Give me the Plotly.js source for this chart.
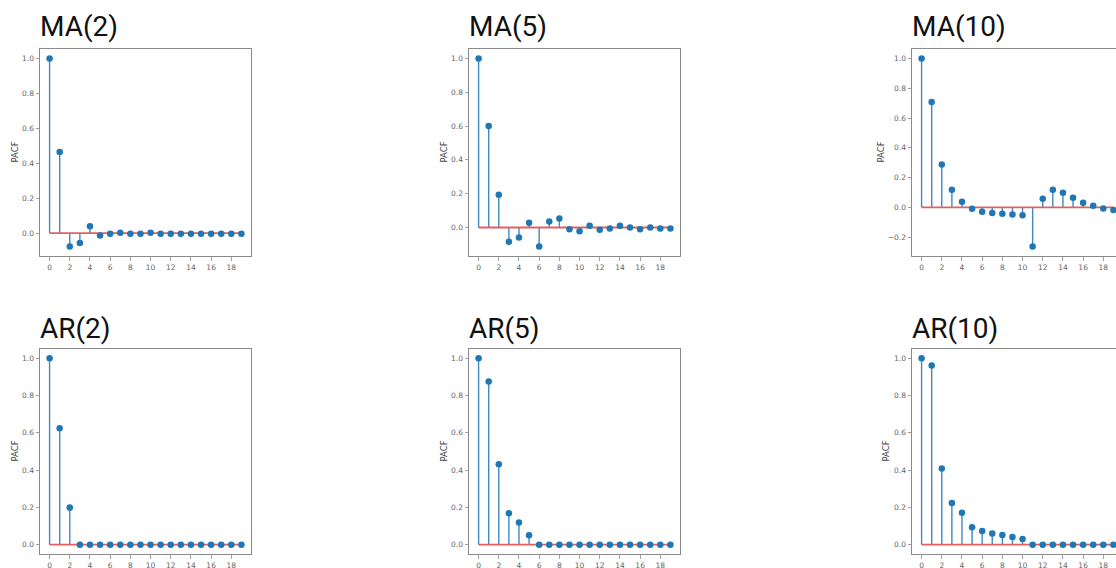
<!DOCTYPE html>
<html>
<head>
<meta charset="utf-8">
<script src="https://cdn.plot.ly/plotly-3.0.1.min.js"></script>
<style>
html, body { margin: 0; padding: 0; overflow: hidden; background: #fff; width: 1116px; height: 568px; }
#chart { width: 1130px; height: 568px; }
</style>
</head>
<body>
<div id="chart"></div>
<script>
// ---- data ----
const lags = [0,1,2,3,4,5,6,7,8,9,10,11,12,13,14,15,16,17,18,19];
const xTickVals = [0,2,4,6,8,10,12,14,16,18];
const yAxisLabel = "PACF";

const titles = ["MA(2)", "MA(5)", "MA(10)", "AR(2)", "AR(5)", "AR(10)"];

const ma2  = [1.0, 0.464, -0.077, -0.056, 0.040, -0.013, -0.004, 0.002, -0.004, -0.004, 0.002, -0.003, -0.003, -0.003, -0.003, -0.003, -0.003, -0.003, -0.003, -0.003];
const ma5  = [1.0, 0.600, 0.194, -0.085, -0.059, 0.028, -0.113, 0.036, 0.053, -0.010, -0.022, 0.010, -0.014, -0.006, 0.010, 0.000, -0.010, 0.000, -0.006, -0.006];
const ma10 = [1.0, 0.708, 0.288, 0.119, 0.038, -0.009, -0.029, -0.038, -0.043, -0.047, -0.052, -0.263, 0.058, 0.119, 0.099, 0.065, 0.031, 0.011, -0.007, -0.018];
const ar2  = [1.0, 0.625, 0.199, 0, 0, 0, 0, 0, 0, 0, 0, 0, 0, 0, 0, 0, 0, 0, 0, 0];
const ar5  = [1.0, 0.876, 0.432, 0.169, 0.119, 0.050, 0, 0, 0, 0, 0, 0, 0, 0, 0, 0, 0, 0, 0, 0];
const ar10 = [1.0, 0.961, 0.409, 0.224, 0.171, 0.094, 0.073, 0.060, 0.052, 0.041, 0.030, 0, 0, 0, 0, 0, 0, 0, 0, 0];

const series = [ma2, ma5, ma10, ar2, ar5, ar10];

// ---- layout geometry (pixels) ----
const W = 1130, H = 568;
const colLeft = [40, 469, 912];
const plotW = 211;
const rowTop = [49, 349];
const rowBot = [256, 554];
const ylabelOffset = [26, 26, 32, 26, 26, 27];
const titleY = [27, 328];

const stemColor = '#4089c2';
const markerColor = '#1f77b4';
const baseColor = '#e0615f';

const data = [];
const layout = {
  width: W, height: H,
  margin: {l: 0, r: 0, t: 0, b: 0, pad: 0},
  paper_bgcolor: '#ffffff',
  plot_bgcolor: '#ffffff',
  showlegend: false,
  font: {family: 'DejaVu Sans, sans-serif', size: 7.5, color: '#666'},
  annotations: []
};

series.forEach((vals, i) => {
  const r = Math.floor(i / 3), c = i % 3;
  const n = i + 1;
  const xa = 'x' + (n === 1 ? '' : n), ya = 'y' + (n === 1 ? '' : n);
  const xKey = 'xaxis' + (n === 1 ? '' : n), yKey = 'yaxis' + (n === 1 ? '' : n);

  // stems
  const sx = [], sy = [];
  lags.forEach((l, k) => { sx.push(l, l, null); sy.push(0, vals[k], null); });
  data.push({x: sx, y: sy, xaxis: xa, yaxis: ya, type: 'scatter', mode: 'lines',
             line: {color: stemColor, width: 1.4}, hoverinfo: 'skip'});
  // baseline
  data.push({x: [lags[0], lags[lags.length - 1]], y: [0, 0], xaxis: xa, yaxis: ya,
             type: 'scatter', mode: 'lines', line: {color: baseColor, width: 1.8}, hoverinfo: 'skip'});
  // markers
  data.push({x: lags, y: vals, xaxis: xa, yaxis: ya, type: 'scatter', mode: 'markers',
             marker: {color: markerColor, size: 6.5}});

  const lo = Math.min(0, ...vals), hi = Math.max(0, ...vals);
  const m = (hi - lo) * 0.05;
  const xmin = lags[0], xmax = lags[lags.length - 1];
  const xm = (xmax - xmin) * 0.05;

  const x0 = colLeft[c] / W, x1 = (colLeft[c] + plotW) / W;
  const y0 = 1 - rowBot[r] / H, y1 = 1 - rowTop[r] / H;

  const axCommon = {
    showline: true, mirror: true, linecolor: '#8a8a8a', linewidth: 1,
    ticks: 'outside', ticklen: 3.5, tickwidth: 0.8, tickcolor: '#8a8a8a',
    showgrid: false, zeroline: false, fixedrange: true,
    tickfont: {family: 'DejaVu Sans, sans-serif', size: 7.5, color: '#666'}
  };
  layout[xKey] = Object.assign({}, axCommon, {
    domain: [x0, x1], anchor: ya, range: [xmin - xm, xmax + xm],
    tickmode: 'array', tickvals: xTickVals, ticktext: xTickVals.map(String)
  });
  layout[yKey] = Object.assign({}, axCommon, {
    domain: [y0, y1], anchor: xa, range: [lo - m, hi + m],
    tick0: 0, dtick: 0.2, tickformat: '.1f'
  });

  layout.annotations.push({
    text: titles[i], xref: 'paper', yref: 'paper',
    x: (colLeft[c] - 2) / W, y: 1 - titleY[r] / H,
    xanchor: 'left', yanchor: 'middle', showarrow: false,
    font: {family: 'Roboto, sans-serif', size: 28, color: '#111'}
  });
  layout.annotations.push({
    text: yAxisLabel, xref: 'paper', yref: 'paper', textangle: -90,
    x: (colLeft[c] - ylabelOffset[i]) / W, y: (y0 + y1) / 2,
    xanchor: 'center', yanchor: 'middle', showarrow: false,
    font: {family: 'DejaVu Sans, sans-serif', size: 8.5, color: '#444'}
  });
});

Plotly.newPlot('chart', data, layout, {displayModeBar: false, staticPlot: true});
</script>
</body>
</html>
